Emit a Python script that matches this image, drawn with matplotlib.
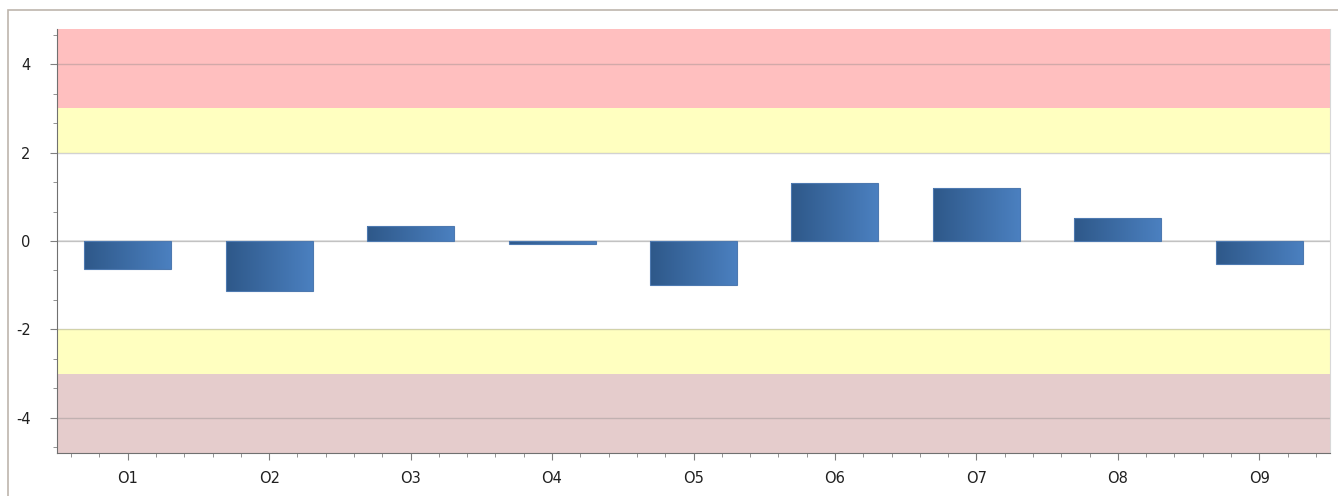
import numpy as np
import matplotlib.pyplot as plt
from matplotlib.patches import Rectangle
from matplotlib.ticker import MultipleLocator

plt.rcParams['axes.unicode_minus'] = False

# categories and values
categories = ['O1', 'O2', 'O3', 'O4', 'O5', 'O6', 'O7', 'O8', 'O9']
values = [-0.63, -1.13, 0.34, -0.06, -0.99, 1.31, 1.20, 0.52, -0.52]

# background bands (low, high, colour)
band_low = [3, 2, -3, -4.8]
band_high = [4.8, 3, -2, -3]
band_colors = ['#ffbfbf', '#ffffc0', '#ffffc0', '#e5cccc']

fig = plt.figure(figsize=(13.38, 4.96), dpi=100)
ax = fig.add_axes([57 / 1338, 1 - 453 / 496, (1330 - 57) / 1338, (453 - 29) / 496])

# outer frame of the control (right and bottom fall off the picture)
fig.patches.append(Rectangle((8 / 1338, -0.1), 1.2, 1 - 10 / 496 + 0.1,
                             transform=fig.transFigure, fill=False,
                             edgecolor='#bdb5ad', linewidth=1.2))

for lo, hi, c in zip(band_low, band_high, band_colors):
    ax.axhspan(lo, hi, color=c, zorder=0, linewidth=0)

ax.grid(axis='y', which='major', color='#808080', alpha=0.35, linewidth=1, zorder=1)
ax.axhline(0, color='#e2e2e2', linewidth=1.2, zorder=1)

x = np.arange(len(categories))
bars = ax.bar(x, values, width=0.615, color='none', edgecolor='#4d79b0',
              linewidth=0.8, zorder=3)

# left-to-right gradient inside each bar
grad = np.linspace(0, 1, 256).reshape(1, -1)
cmap = plt.matplotlib.colors.LinearSegmentedColormap.from_list('b', ['#2e5889', '#4b80c0'])
for b in bars:
    x0, y0 = b.get_x(), b.get_y()
    w, h = b.get_width(), b.get_height()
    im = ax.imshow(grad, cmap=cmap, aspect='auto', zorder=2,
                   extent=[x0, x0 + w, min(y0, y0 + h), max(y0, y0 + h)])
    im.set_clip_path(b)
ax.set_xlim(-0.5, len(categories) - 0.5)
ax.set_ylim(-4.8, 4.8)

ax.set_xticks(x)
ax.set_xticklabels(categories)
ax.xaxis.set_minor_locator(MultipleLocator(0.2))
ax.yaxis.set_major_locator(MultipleLocator(2))
ax.yaxis.set_minor_locator(MultipleLocator(2 / 3))

ax.tick_params(axis='both', which='major', length=5, color='#808080',
               labelsize=10.5, labelcolor='#202020')
ax.tick_params(axis='both', which='minor', length=3, color='#808080')
ax.tick_params(axis='y', pad=14)
ax.tick_params(axis='x', pad=8)

for s in ['left', 'bottom']:
    ax.spines[s].set_color('#707070')
ax.spines['top'].set_visible(False)
ax.spines['right'].set_color('#d8d8d8')

fig.savefig('out.png', dpi=100)
